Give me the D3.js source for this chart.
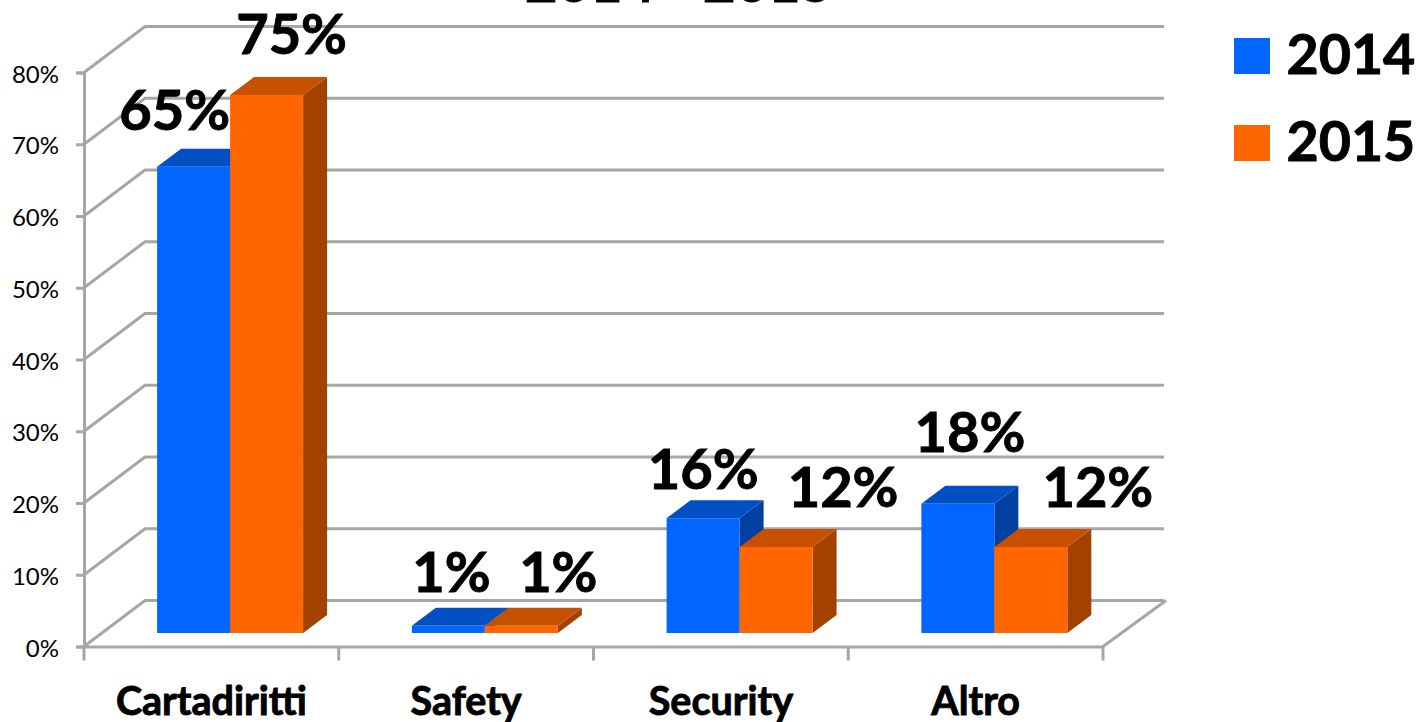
<!DOCTYPE html>
<html>
    <head>
        <title>2014 - 2015</title>
        <script src="https://d3js.org/d3.v7.min.js"></script>
        <style>
            html, body { margin: 0; padding: 0; background: #fff; overflow: hidden; }
            text { font-family: Lato, "Open Sans", sans-serif; fill: #000; }
            .heavy { font-weight: 700; stroke: #000; stroke-width: 0.9px; }
        </style>
    </head>
    <body>
        <div class="chart"></div>
        <script>
            const chartTitle = "2014 - 2015";
            const categories = ["Cartadiritti", "Safety", "Security", "Altro"];
            const seriesNames = ["2014", "2015"];
            const values2014 = [65, 1, 16, 18];
            const values2015 = [75, 1, 12, 12];
            const yTicks = [0, 10, 20, 30, 40, 50, 60, 70, 80];

            let width = 1420;
            let height = 722;
            let plotLeft = 84, plotRight = 1103, plotTop = 72.5, plotBottom = 646.5;
            let wallX = 61, wallY = 46;     // depth of the floor
            let barDepthX = 24, barDepthY = 18;
            let barLift = 13.5;             // bars stand in the middle of the floor
            let gray = "#a6a6a6";

            let colors = {
                "2014": { front: "#0066ff", top: "#0050c4", side: "#0040a3" },
                "2015": { front: "#ff6600", top: "#c45000", side: "#a34200" }
            };

            // hand placed data labels, [dx, dy] from the top centre of the bar
            let labelNudge = {
                "2014": [[-19, -37], [3, -34], [0, -29], [12, -52]],
                "2015": [[25, -41], [37, -34], [67, -40], [67, -40]]
            };

            let svg = d3.select(".chart")
                .append("svg")
                .attr("width", width)
                .attr("height", height)
                .style("display", "block");

            svg.append("text")
                .attr("class", "heavy")
                .attr("x", 679)
                .attr("y", 2)
                .attr("text-anchor", "middle")
                .style("font-size", "56px")
                .text(chartTitle);

            let y = d3.scaleLinear().domain([0, 80]).range([plotBottom, plotTop]);
            let x = d3.scaleBand().domain(categories).range([plotLeft, plotRight]);
            let xInner = d3.scaleBand().domain(seriesNames)
                .range([x.bandwidth() * 0.287, x.bandwidth() * 0.86]);

            // wall grid lines
            let lineStyle = function (sel) {
                return sel.attr("fill", "none").attr("stroke", gray).attr("stroke-width", 3);
            };

            svg.append("g").attr("class", "grid")
                .selectAll("path")
                .data(yTicks)
                .enter()
                .append("path")
                .call(lineStyle)
                .attr("d", function (d) {
                    return "M" + plotLeft + "," + y(d) + "L" + (plotLeft + wallX) + "," + (y(d) - wallY) + "H" + (plotRight + wallX);
                });

            // floor edge on the right
            svg.append("path")
                .call(lineStyle)
                .attr("d", "M" + plotRight + "," + plotBottom + "L" + (plotRight + wallX + 2) + "," + (plotBottom - wallY));

            // axes
            let yAxis = d3.axisLeft(y).tickValues(yTicks).tickSize(8).tickPadding(17)
                .tickFormat(function (d) { return d + "%"; });
            let gy = svg.append("g").attr("class", "y axis")
                .attr("transform", "translate(" + plotLeft + ",0)")
                .call(yAxis);
            gy.selectAll("path, line").attr("stroke", gray).attr("stroke-width", 3);
            gy.selectAll("text")
                .attr("dy", "0.4em")
                .style("font-size", "24px")
                .style("font-family", "Lato, sans-serif");

            let xAxis = d3.axisBottom(x).tickSize(0).tickPadding(40);
            let gx = svg.append("g").attr("class", "x axis")
                .attr("transform", "translate(0," + plotBottom + ")")
                .call(xAxis);
            gx.select(".domain").attr("stroke", gray).attr("stroke-width", 3);
            gx.selectAll("text")
                .attr("class", "heavy")
                .style("font-size", "39.5px")
                .style("font-family", "Lato, sans-serif");

            // tick marks sit between the categories
            let edges = categories.map(function (c) { return x(c); }).concat([plotRight]);
            gx.selectAll(".edge")
                .data(edges)
                .enter()
                .append("line")
                .attr("class", "edge")
                .attr("x1", function (d) { return d; })
                .attr("x2", function (d) { return d; })
                .attr("y1", 0)
                .attr("y2", 14)
                .attr("stroke", gray)
                .attr("stroke-width", 3);

            // bars
            let rows = [];
            seriesNames.forEach(function (s, i) {
                let vals = i == 0 ? values2014 : values2015;
                categories.forEach(function (c, j) {
                    rows.push({ series: s, category: c, value: vals[j], index: j });
                });
            });

            let bars = svg.selectAll(".bar")
                .data(rows)
                .enter()
                .append("g")
                .attr("class", "bar")
                .attr("transform", function (d) {
                    return "translate(" + (x(d.category) + xInner(d.series)) + "," + (-barLift) + ")";
                });

            let w = xInner.bandwidth();

            bars.append("path")
                .attr("fill", function (d) { return colors[d.series].side; })
                .attr("d", function (d) {
                    return "M" + w + "," + y(d.value) + "l" + barDepthX + "," + (-barDepthY) +
                        "V" + (y(0) - barDepthY) + "l" + (-barDepthX) + "," + barDepthY + "Z";
                });

            bars.append("path")
                .attr("fill", function (d) { return colors[d.series].top; })
                .attr("d", function (d) {
                    return "M0," + y(d.value) + "l" + barDepthX + "," + (-barDepthY) +
                        "h" + w + "l" + (-barDepthX) + "," + barDepthY + "Z";
                });

            bars.append("rect")
                .attr("fill", function (d) { return colors[d.series].front; })
                .attr("x", 0)
                .attr("y", function (d) { return y(d.value); })
                .attr("width", w)
                .attr("height", function (d) { return y(0) - y(d.value); });

            // data labels
            svg.selectAll(".label")
                .data(rows)
                .enter()
                .append("text")
                .attr("class", "label heavy")
                .attr("text-anchor", "middle")
                .style("font-size", "56px")
                .attr("x", function (d) {
                    return x(d.category) + xInner(d.series) + w / 2 + labelNudge[d.series][d.index][0];
                })
                .attr("y", function (d) {
                    return y(d.value) - barLift + labelNudge[d.series][d.index][1];
                })
                .text(function (d) { return d.value + "%"; });

            // legend
            let legend = svg.selectAll(".legend")
                .data(seriesNames)
                .enter()
                .append("g")
                .attr("class", "legend")
                .attr("transform", function (d, i) { return "translate(1234," + (38 + i * 87) + ")"; });

            legend.append("rect")
                .attr("width", 36)
                .attr("height", 36)
                .attr("fill", function (d) { return colors[d].front; });

            legend.append("text")
                .attr("class", "heavy")
                .attr("x", 52.5)
                .attr("y", 36)
                .style("font-size", "55.5px")
                .text(function (d) { return d; });
        </script>
    </body>
</html>
